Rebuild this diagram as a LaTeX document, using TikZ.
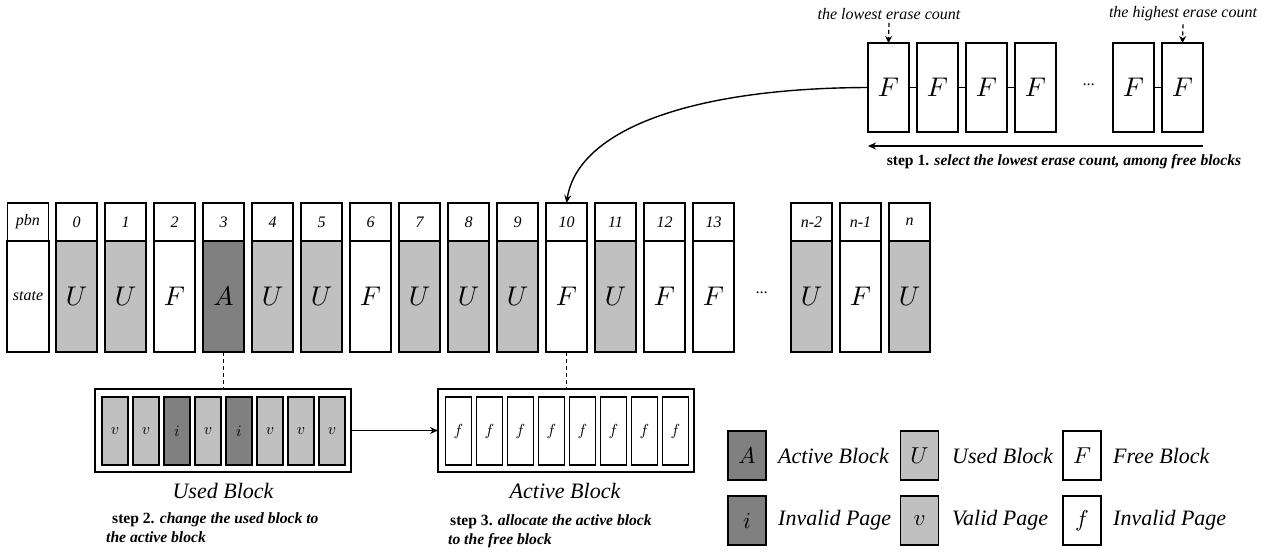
\documentclass[tikz,border=0pt]{standalone}
\usepackage{fontspec}
\setmainfont{Liberation Serif}
\DeclareFontShape{OML}{cmm}{m}{it}{<-> cmmi10}{}
\usetikzlibrary{arrows.meta}
\definecolor{ug}{HTML}{C0C0C0}
\definecolor{ag}{HTML}{808080}
\tikzset{
 base/.style={draw, line width=1.4pt, inner sep=0pt, outer sep=0pt},
 hdr/.style={base, minimum width=41pt, minimum height=38pt, font=\fontsize{16}{16}\selectfont\itshape},
 cell/.style={base, minimum width=41pt, minimum height=111pt, font=\fontsize{27}{27}\selectfont},
 topbox/.style={base, minimum width=41pt, minimum height=89pt, font=\fontsize{27}{27}\selectfont},
 pagebox/.style={base, minimum width=26pt, minimum height=68pt, font=\fontsize{16}{16}\selectfont},
 outerbox/.style={base, minimum width=256pt, minimum height=83pt},
 lgbox/.style={base, minimum width=38pt, minimum height=49pt, font=\fontsize{23}{23}\selectfont},
 lgtext/.style={anchor=west, inner sep=0pt, font=\fontsize{22}{22}\selectfont\itshape},
 bigcap/.style={inner sep=0pt, font=\fontsize{22}{22}\selectfont\itshape},
 smalllab/.style={inner sep=0pt, font=\fontsize{16}{16}\selectfont\itshape},
 steptext/.style={inner sep=0pt, align=left, font=\fontsize{15.6}{19.5}\selectfont},
 arr/.style={-{Stealth[length=8pt,width=7pt]}, line width=1.4pt},
 dashline/.style={dash pattern=on 4pt off 3pt, line width=1.2pt},
}
\begin{document}
\begin{tikzpicture}[x=1pt,y=-1pt]
\useasboundingbox (0,0) rectangle (1286,555);
% ---- top free block list
\foreach \k in {0,1,2,3,5,6} {
  \node[topbox] (f\k) at ({888.5+49*\k},87.5) {$F$};
}
\node[smalllab] (fdots) at (1089,85) {...};
\draw[line width=1.4pt] (f0) -- (f1) (f1) -- (f2) (f2) -- (f3) (f5) -- (f6);
\node[smalllab] (lowlab) at (889,14) {the lowest erase count};
\node[smalllab] (highlab) at (1183,14) {the highest erase count};
\draw[arr, dashline, -{Stealth[length=7pt,width=7pt]}] (lowlab.south) ++(0,3) -- (f0.north);
\draw[arr, dashline, -{Stealth[length=7pt,width=7pt]}] (highlab.south) ++(0,3) -- (f6.north);
\coordinate (b1) at (1203,146);
\coordinate (b0) at (868,146);
\draw[arr] (b1) -- (b0);
\node[steptext] (st1) at (1064,162) {\textbf{step 1.} \textbf{\textit{select the lowest erase count, among free blocks}}};
% ---- main table
\node[hdr] (hp) at (28,222) {pbn};
\node[base, minimum width=42pt, minimum height=111pt, font=\fontsize{16}{16}\selectfont\itshape] (sp) at (28,296.5) {state};
\foreach \i/\lab/\st/\fc in {0/0/U/ug,1/1/U/ug,2/2/F/white,3/3/A/ag,4/4/U/ug,5/5/U/ug,6/6/F/white,7/7/U/ug,8/8/U/ug,9/9/U/ug,10/10/F/white,11/11/U/ug,12/12/F/white,13/13/F/white,15/n-2/U/ug,16/n-1/F/white,17/n/U/ug} {
  \node[hdr] (h\i) at ({76.5+49*\i},222) {\lab};
  \node[cell, fill=\fc] (s\i) at ({76.5+49*\i},296.5) {$\st$};
}
\node[smalllab] (mdots) at (762,293) {...};
% ---- curved arrow
\draw[arr] (f0.west) .. controls (690,88) and (578,130) .. (h10.north);
% ---- used block
\node[outerbox] (ub) at (223,430.5) {};
\foreach \k/\l/\fc in {0/v/ug,1/v/ug,2/i/ag,3/v/ug,4/i/ag,5/v/ug,6/v/ug,7/v/ug} {
  \node[pagebox, fill=\fc] (up\k) at ({115+31*\k},431) {$\l$};
}
\node[outerbox] (ab) at (566,430.5) {};
\foreach \k in {0,...,7} {
  \node[pagebox] (ap\k) at ({458.5+31*\k},431) {$f$};
}
\draw[dashline] (s3.south) -- (s3.south |- ub.north);
\draw[dashline] (s10.south) -- (s10.south |- ab.north);
\draw[arr] (ub.east) -- (ab.west);
\node[bigcap] (ublab) at (223,491) {Used Block};
\node[bigcap] (ablab) at (565,491) {Active Block};
\node[steptext, anchor=north west] (st2) at (106,512) {\hspace*{6pt}\textbf{step 2.} \textbf{\textit{change the used block to}}\\\textbf{\textit{the active block}}};
\node[steptext, anchor=north west] (st3) at (448,514) {\hspace*{2pt}\textbf{step 3.} \textbf{\textit{allocate the active block}}\\\textbf{\textit{to the free block}}};
% ---- legend
\node[lgbox, fill=ag] (lA) at (747,455.5) {$A$};
\node[lgtext] (tA) at (778,455.5) {Active Block};
\node[lgbox, fill=ug] (lU) at (919.5,455.5) {$U$};
\node[lgtext] (tU) at (952,455.5) {Used Block};
\node[lgbox, fill=white] (lF) at (1082,455.5) {$F$};
\node[lgtext] (tF) at (1113,455.5) {Free Block};
\node[lgbox, fill=ag] (li) at (747,520.5) {$i$};
\node[lgtext] (ti) at (778,520.5) {Invalid Page};
\node[lgbox, fill=ug] (lv) at (919.5,520.5) {$v$};
\node[lgtext] (tv) at (952,520.5) {Valid Page};
\node[lgbox, fill=white] (lf) at (1082,520.5) {$f$};
\node[lgtext] (tf) at (1113,520.5) {Invalid Page};
\end{tikzpicture}
\end{document}
